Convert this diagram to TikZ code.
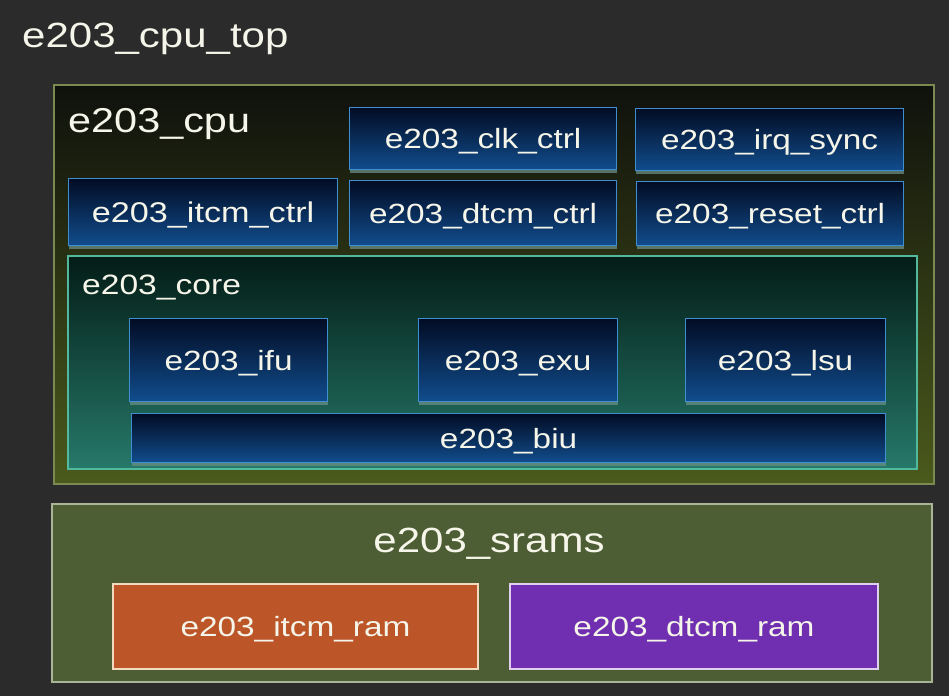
\documentclass[tikz,border=0pt]{standalone}
\usepackage{fontspec}
\setmainfont{Liberation Sans}[FakeStretch=1.2]
\definecolor{bg}{HTML}{2B2B2B}
\definecolor{cputop}{HTML}{0F110C}
\definecolor{cpubot}{HTML}{4B5A1C}
\definecolor{cpuedge}{HTML}{7A8A50}
\definecolor{coretop}{HTML}{031C16}
\definecolor{corebot}{HTML}{26796A}
\definecolor{coreedge}{HTML}{52B89E}
\definecolor{blutop}{HTML}{020C24}
\definecolor{blubot}{HTML}{114D8D}
\definecolor{bluedge}{HTML}{3F8FD0}
\definecolor{blushade}{HTML}{6A8E84}
\definecolor{sramfill}{HTML}{4E5E34}
\definecolor{sramedge}{HTML}{A9B596}
\definecolor{itcmfill}{HTML}{BC5528}
\definecolor{itcmedge}{HTML}{F3D9BD}
\definecolor{dtcmfill}{HTML}{702FB0}
\definecolor{dtcmedge}{HTML}{E0D0F0}
\definecolor{txt}{HTML}{F5F5EA}
\begin{document}
\begin{tikzpicture}[x=1pt,y=-1pt,
  box/.style={inner sep=0pt, anchor=north west, text=txt},
  cpubox/.style={box, draw=cpuedge, line width=2pt, top color=cputop, bottom color=cpubot},
  corebox/.style={box, draw=coreedge, line width=1.6pt, top color=coretop, bottom color=corebot},
  blubox/.style={box, draw=bluedge, line width=1.2pt, top color=blutop, bottom color=blubot,
    preaction={fill=blushade, fill opacity=0.75, transform canvas={yshift=-3pt}},
    font=\fontsize{27.8}{30}\selectfont, text height=20pt, text depth=0pt},
  srambox/.style={box, draw=sramedge, line width=1.6pt, fill=sramfill},
  rambox/.style={box, line width=2pt, font=\fontsize{27.8}{30}\selectfont, text height=20pt, text depth=0pt},
  lbl/.style={inner sep=0pt, anchor=base west, text=txt}
]
\fill[bg] (0,0) rectangle (949,696);
\useasboundingbox (0,0) rectangle (949,696);

\node[lbl, font=\fontsize{35}{38}\selectfont] (toplbl) at (22,47) {e203\_cpu\_top};

% e203_cpu
\node[cpubox, minimum width=880pt, minimum height=399pt] (cpu) at (53,84) {};
\node[lbl, font=\fontsize{34.5}{37}\selectfont] (cpulbl) at (68,132) {e203\_cpu};

\node[blubox, minimum width=267pt, minimum height=62pt] (clk) at (349,107) {e203\_clk\_ctrl};
\node[blubox, minimum width=268pt, minimum height=62pt] (irq) at (635,108) {e203\_irq\_sync};
\node[blubox, minimum width=269pt, minimum height=67pt, font=\fontsize{28.5}{30}\selectfont] (itcm) at (68,178) {e203\_itcm\_ctrl};
\node[blubox, minimum width=267pt, minimum height=65pt] (dtcm) at (349,180) {e203\_dtcm\_ctrl};
\node[blubox, minimum width=267pt, minimum height=64pt] (rst) at (636,181) {e203\_reset\_ctrl};

% e203_core
\node[corebox, minimum width=849pt, minimum height=213pt] (core) at (67,255) {};
\node[lbl, font=\fontsize{28}{30}\selectfont] (corelbl) at (82,294) {e203\_core};

\node[blubox, minimum width=198pt, minimum height=83pt] (ifu) at (129,318) {e203\_ifu};
\node[blubox, minimum width=199pt, minimum height=83pt] (exu) at (418,318) {e203\_exu};
\node[blubox, minimum width=200pt, minimum height=83pt] (lsu) at (685,318) {e203\_lsu};
\node[blubox, minimum width=754pt, minimum height=49pt] (biu) at (131,413) {e203\_biu};

% e203_srams
\node[srambox, minimum width=880pt, minimum height=178pt] (srams) at (51,503) {};
\node[inner sep=0pt, anchor=base, text=txt, font=\fontsize{35}{38}\selectfont] (sramlbl) at (489,552) {e203\_srams};

\node[rambox, draw=itcmedge, fill=itcmfill, minimum width=365pt, minimum height=85pt] (iram) at (112,583) {e203\_itcm\_ram};
\node[rambox, draw=dtcmedge, fill=dtcmfill, minimum width=368pt, minimum height=85pt] (dram) at (509,583) {e203\_dtcm\_ram};
\end{tikzpicture}
\end{document}
